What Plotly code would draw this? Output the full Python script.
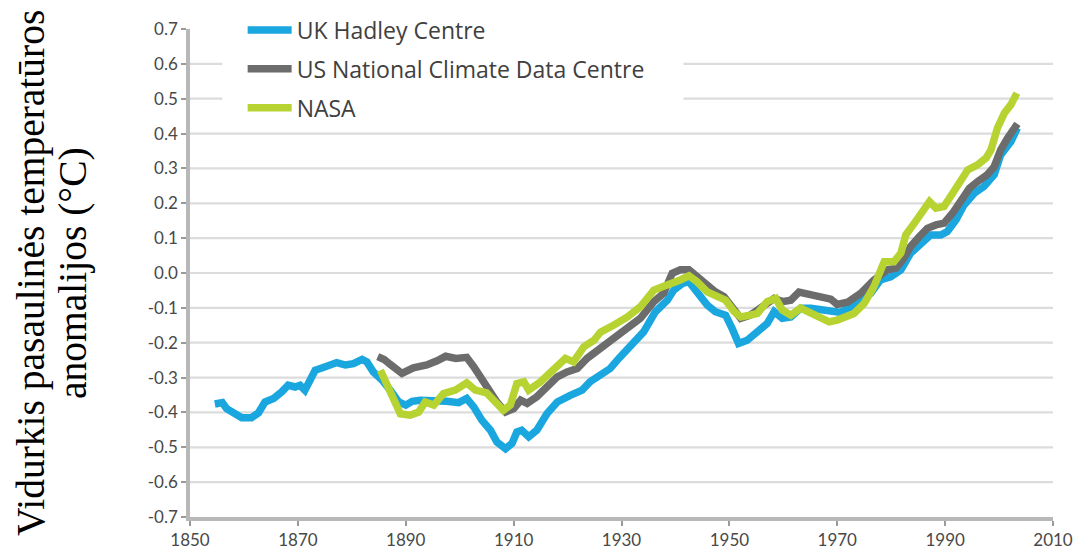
import plotly.graph_objects as go

# ---------------- data ----------------
hadley_years = [1854.6, 1856.0, 1856.8, 1858.0, 1859.6, 1861.4, 1862.7, 1863.9, 1865.5, 1867.0,
                1868.2, 1869.5, 1870.4, 1871.3, 1872.3, 1873.2, 1874.7, 1876.0, 1877.2, 1878.8,
                1880.3, 1881.9, 1882.8, 1884.0, 1885.6, 1887.1, 1888.7, 1890.0, 1891.2, 1892.7,
                1895.2, 1897.6, 1899.8, 1901.3, 1902.6, 1904.1, 1905.7, 1906.9, 1908.5, 1909.7,
                1910.6, 1911.5, 1912.8, 1914.3, 1916.2, 1918.1, 1920.5, 1922.7, 1924.2, 1926.1,
                1927.9, 1929.5, 1931.7, 1934.1, 1936.3, 1938.5, 1939.7, 1941.3, 1942.5, 1944.0,
                1945.9, 1947.4, 1949.3, 1950.5, 1951.7, 1953.3, 1955.2, 1957.0, 1958.3, 1959.8,
                1961.4, 1963.2, 1965.1, 1966.9, 1968.8, 1970.6, 1972.2, 1973.7, 1976.2, 1978.0,
                1979.9, 1981.8, 1983.6, 1985.5, 1987.3, 1989.2, 1990.4, 1992.0, 1993.5, 1995.4,
                1997.2, 1999.1, 2000.3, 2002.2, 2003.4]
hadley_values = [-0.376, -0.372, -0.389, -0.403, -0.415, -0.415, -0.401, -0.370, -0.360, -0.341,
                 -0.322, -0.327, -0.322, -0.336, -0.307, -0.279, -0.271, -0.264, -0.257, -0.264,
                 -0.260, -0.248, -0.255, -0.284, -0.307, -0.336, -0.370, -0.379, -0.368, -0.365,
                 -0.365, -0.368, -0.372, -0.360, -0.384, -0.422, -0.451, -0.485, -0.504, -0.489,
                 -0.456, -0.451, -0.470, -0.451, -0.403, -0.370, -0.351, -0.336, -0.312, -0.293,
                 -0.274, -0.245, -0.210, -0.169, -0.111, -0.078, -0.049, -0.030, -0.025, -0.054,
                 -0.092, -0.111, -0.121, -0.159, -0.202, -0.193, -0.169, -0.145, -0.111, -0.130,
                 -0.126, -0.101, -0.101, -0.106, -0.110, -0.113, -0.100, -0.087, -0.058, -0.020,
                 -0.011, 0.009, 0.057, 0.085, 0.109, 0.109, 0.119, 0.152, 0.195, 0.229,
                 0.248, 0.282, 0.339, 0.377, 0.416]

ncdc_years = [1884.8, 1886.0, 1887.1, 1889.3, 1891.4, 1893.9, 1895.8, 1897.4, 1899.3, 1901.3,
              1902.6, 1904.1, 1905.4, 1906.9, 1908.5, 1910.0, 1911.3, 1912.5, 1914.3, 1916.2,
              1918.1, 1919.9, 1921.8, 1923.6, 1926.1, 1928.6, 1931.1, 1933.5, 1936.0, 1937.8,
              1939.4, 1940.9, 1942.5, 1944.0, 1945.9, 1947.4, 1949.0, 1950.5, 1952.1, 1953.9,
              1955.8, 1958.3, 1959.8, 1961.4, 1962.9, 1964.8, 1966.9, 1968.8, 1970.0, 1971.9,
              1974.4, 1976.8, 1979.3, 1980.9, 1982.1, 1983.6, 1985.2, 1986.7, 1988.3, 1989.8,
              1991.4, 1992.9, 1994.5, 1996.0, 1997.8, 1999.1, 2000.3, 2001.6, 2002.5, 2003.4]
ncdc_values = [-0.240, -0.248, -0.262, -0.288, -0.272, -0.264, -0.252, -0.239, -0.245, -0.242,
               -0.269, -0.307, -0.333, -0.370, -0.399, -0.389, -0.365, -0.374, -0.355, -0.327,
               -0.298, -0.284, -0.274, -0.245, -0.215, -0.190, -0.159, -0.130, -0.082, -0.058,
               -0.001, 0.009, 0.009, -0.011, -0.034, -0.054, -0.068, -0.101, -0.130, -0.121,
               -0.101, -0.073, -0.082, -0.078, -0.055, -0.063, -0.068, -0.075, -0.090, -0.084,
               -0.058, -0.020, 0.009, 0.014, 0.037, 0.076, 0.104, 0.128, 0.138, 0.143,
               0.172, 0.210, 0.243, 0.262, 0.282, 0.305, 0.353, 0.387, 0.406, 0.428]

nasa_years = [1885.3, 1887.1, 1889.0, 1890.8, 1892.4, 1893.6, 1895.2, 1897.0, 1899.2, 1901.3,
              1902.9, 1905.0, 1906.9, 1908.1, 1909.4, 1910.6, 1911.9, 1912.8, 1915.0, 1917.4,
              1919.6, 1921.1, 1923.0, 1924.9, 1926.1, 1928.6, 1931.1, 1933.5, 1936.0, 1938.2,
              1939.4, 1940.9, 1942.5, 1944.0, 1945.9, 1947.8, 1949.3, 1950.9, 1952.1, 1953.9,
              1955.2, 1957.0, 1958.6, 1959.8, 1961.4, 1963.2, 1965.1, 1966.9, 1968.5, 1970.0,
              1971.6, 1973.1, 1975.0, 1976.8, 1978.7, 1980.5, 1981.8, 1982.7, 1984.3, 1985.8,
              1987.1, 1988.3, 1989.8, 1991.4, 1992.9, 1994.2, 1996.0, 1997.6, 1998.5, 1999.7,
              2001.0, 2002.2, 2003.3]
nasa_values = [-0.279, -0.336, -0.404, -0.408, -0.399, -0.370, -0.379, -0.346, -0.336, -0.315,
               -0.336, -0.344, -0.374, -0.394, -0.379, -0.317, -0.312, -0.336, -0.312, -0.279,
               -0.245, -0.255, -0.212, -0.193, -0.170, -0.149, -0.126, -0.097, -0.049, -0.036,
               -0.030, -0.020, -0.008, -0.025, -0.054, -0.068, -0.078, -0.111, -0.126, -0.121,
               -0.116, -0.082, -0.073, -0.106, -0.121, -0.101, -0.116, -0.126, -0.140, -0.135,
               -0.128, -0.116, -0.087, -0.039, 0.032, 0.032, 0.057, 0.109, 0.143, 0.176,
               0.205, 0.186, 0.191, 0.229, 0.262, 0.296, 0.310, 0.330, 0.353, 0.416,
               0.459, 0.483, 0.516]

series_names = ["UK Hadley Centre", "US National Climate Data Centre", "NASA"]

x_tick_vals = [1850, 1870, 1890, 1910, 1930, 1950, 1970, 1990, 2010]
x_tick_text = ["1850", "1870", "1890", "1910", "1930", "1950", "1970", "1990", "2010"]
y_tick_vals = [0.7, 0.6, 0.5, 0.4, 0.3, 0.2, 0.1, 0.0, -0.1, -0.2, -0.3, -0.4, -0.5, -0.6, -0.7]
y_tick_text = ["0.7", "0.6", "0.5", "0.4", "0.3", "0.2", "0.1", "0.0", "-0.1", "-0.2", "-0.3",
               "-0.4", "-0.5", "-0.6", "-0.7"]

y_title_lines = ["Vidurkis pasaulinės temperatūros", "anomalijos (°C)"]

# ---------------- styles ----------------
colors = ["#1aa6de", "#6c6c6c", "#b7d332"]
LINE_W = 7.5
SANS = "Lato, 'Open Sans', sans-serif"
LEG_FONT = "'Open Sans', Lato, sans-serif"
SERIF = "'Liberation Serif', 'Times New Roman', serif"
X_RANGE = [1850, 2010]
Y_RANGE = [-0.7, 0.7]
LEGEND_GAP = [1856.0, 1941.5]   # legend area hides the upper grid lines
PLOT_L, PLOT_W = 190, 863

fig = go.Figure()
for i, (xs, ys) in enumerate([(hadley_years, hadley_values),
                              (ncdc_years, ncdc_values),
                              (nasa_years, nasa_values)]):
    fig.add_trace(go.Scatter(
        x=xs, y=ys, mode="lines", name=series_names[i],
        legendgroup=f"g{i}",
        line=dict(color=colors[i], width=LINE_W, shape="linear"),
        hoverinfo="skip",
    ))

# grid lines as shapes (no line at the top tick, gap behind the legend)
shapes = []
for v in y_tick_vals:
    if v >= Y_RANGE[1] - 1e-9 or v <= Y_RANGE[0] + 1e-9:
        continue
    if v >= 0.45:
        segs = [(X_RANGE[0], LEGEND_GAP[0]), (LEGEND_GAP[1], X_RANGE[1])]
    else:
        segs = [(X_RANGE[0], X_RANGE[1])]
    for a, b in segs:
        shapes.append(dict(type="line", xref="x", yref="y", x0=a, x1=b, y0=v, y1=v,
                           line=dict(color="#dcdcdc", width=2.2), layer="below"))

title_x_px = [31, 73]
annotations = []
for line, px in zip(y_title_lines, title_x_px):
    annotations.append(dict(
        text=line, xref="paper", yref="paper", x=(px - PLOT_L) / PLOT_W, y=0.5,
        xanchor="center", yanchor="middle", textangle=-90, showarrow=False,
        font=dict(family=SERIF, size=39.5, color="black"),
    ))

tick_common = dict(
    showgrid=False, zeroline=False,
    showline=True, linecolor="#b8b8b8", linewidth=3.5,
    ticks="outside", ticklen=5, tickwidth=1.5, tickcolor="#9a9a9a",
    tickfont=dict(family=SANS, size=17, color="#484848"),
    ticklabeloverflow="allow",
    fixedrange=True,
)

fig.update_layout(
    width=1073, height=550,
    margin=dict(l=PLOT_L, r=20, t=29, b=33, autoexpand=False),
    paper_bgcolor="white", plot_bgcolor="white",
    showlegend=True,
    legend=dict(
        x=0.061, y=1.042, xanchor="left", yanchor="top",
        bgcolor="rgba(255,255,255,0)",
        font=dict(family=LEG_FONT, size=23, color="#404040"),
        traceorder="grouped", tracegroupgap=6,
        itemwidth=44,
    ),
    shapes=shapes,
    xaxis=dict(range=X_RANGE, tickvals=x_tick_vals, ticktext=x_tick_text, **tick_common),
    yaxis=dict(range=Y_RANGE, tickvals=y_tick_vals, ticktext=y_tick_text, **tick_common),
    annotations=annotations,
)

fig.write_html("out.html", config={"displayModeBar": False},
               post_script="document.body.style.margin='0';")
